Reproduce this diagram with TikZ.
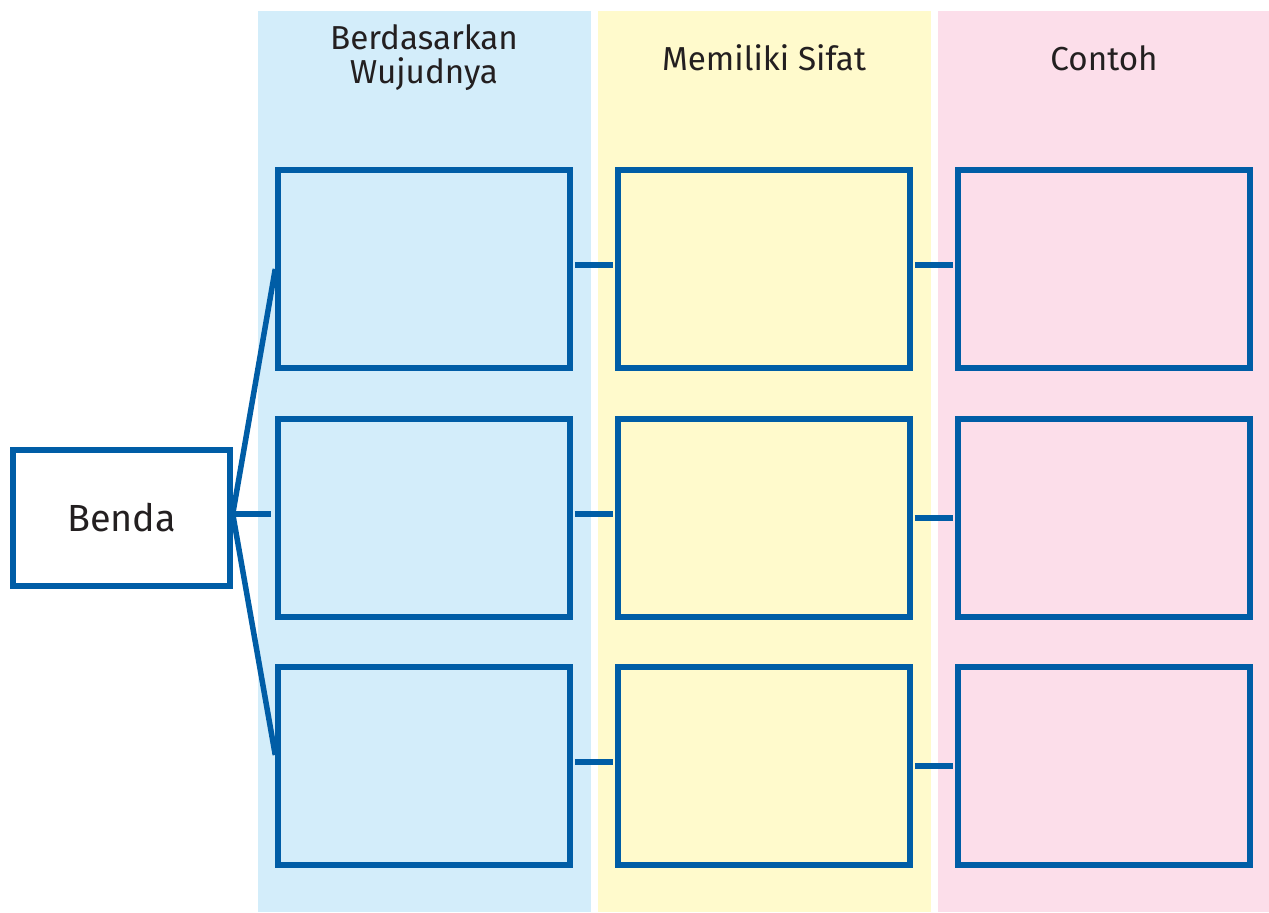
\documentclass[tikz,border=0pt]{standalone}
\usepackage{fontspec}
\setmainfont{Fira Sans}
\definecolor{boxblue}{HTML}{005DA6}
\definecolor{colblue}{HTML}{D3EDFA}
\definecolor{colyellow}{HTML}{FFFACC}
\definecolor{colpink}{HTML}{FCDEEA}
\definecolor{inktext}{HTML}{231F20}

\begin{document}
\begin{tikzpicture}[
    card/.style={rectangle, draw=boxblue, line width=0.11cm, minimum width=5.84cm, minimum height=3.96cm, inner sep=0pt},
    link/.style={draw=boxblue, line width=0.11cm},
    head/.style={text=inktext, font=\fontsize{18.9}{19.9}\selectfont, align=center}
]
    \useasboundingbox (0,0) rectangle (25.38,18.24);

    % Draw columns
    \fill[colblue] (5.16,0) rectangle (11.82,18.02);
    \fill[colyellow] (11.96,0) rectangle (18.62,18.02);
    \fill[colpink] (18.76,0) rectangle (25.38,18.02);

    % Headers
    \node[head, anchor=base] (wujud) at (8.48,16.56) {Berdasarkan\\Wujudnya};
    \node[head, anchor=base] (sifat) at (15.28,16.82) {Memiliki Sifat};
    \node[head, anchor=base] (contoh) at (22.08,16.82) {Contoh};

    % Draw nodes
    \node[rectangle, draw=boxblue, line width=0.11cm, minimum width=4.34cm, minimum height=2.72cm,
          text=inktext, font=\fontsize{21.5}{24}\selectfont] (benda) at (2.43,7.88) {Benda};
    \foreach \r/\y in {1/12.86, 2/7.88, 3/2.92} {
        \node[card] (w\r) at (8.48,\y) {};
        \node[card] (s\r) at (15.28,\y) {};
        \node[card] (c\r) at (22.08,\y) {};
    }

    % Draw connections
    \coordinate (hub) at ([yshift=0.08cm]benda.east);
    \draw[link] (hub) -- (w1.west);
    \draw[link] (hub) -- ([yshift=0.22cm]w3.west);
    \draw[link, shorten >=0.08cm] (hub) -- (hub -| w2.west);
    \foreach \r/\a/\b in {1/0.08/0.08, 2/0.08/0, 3/0.08/0} {
        \draw[link, shorten <=0.04cm, shorten >=0.04cm] ([yshift=\a cm]w\r.east) -- ([yshift=\a cm]s\r.west);
        \draw[link, shorten <=0.04cm, shorten >=0.04cm] ([yshift=\b cm]s\r.east) -- ([yshift=\b cm]c\r.west);
    }
\end{tikzpicture}
\end{document}
